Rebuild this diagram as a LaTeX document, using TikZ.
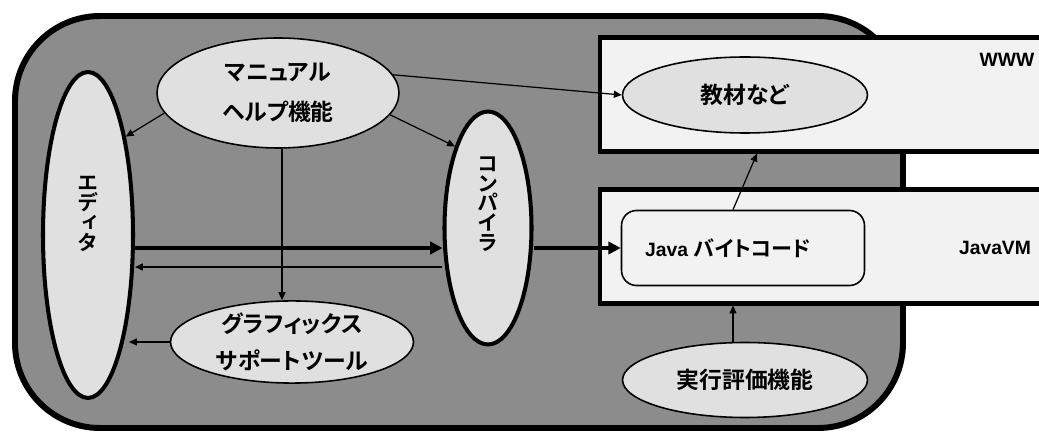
\documentclass[tikz,border=0pt]{standalone}
\usepackage{fontspec}
\usetikzlibrary{shapes.geometric,arrows.meta,calc}
\IfFontExistsTF{Noto Sans CJK JP Bold}
 {\newfontfamily\cjk{Noto Sans CJK JP Bold}[RawFeature=+palt]
  \newfontfamily\cjkv{Noto Sans CJK JP Bold}[RawFeature=+vert]}
 {\newfontfamily\cjk{Noto Sans CJK JP}[RawFeature=+palt,FakeBold=1.2]
  \newfontfamily\cjkv{Noto Sans CJK JP}[RawFeature=+vert,FakeBold=1.2]}
\newfontfamily\lat{Liberation Sans}
\definecolor{outerfill}{gray}{0.55}
\definecolor{elfill}{gray}{0.88}
\definecolor{boxfill}{gray}{0.95}
\setlength{\lineskiplimit}{-20pt}
\begin{document}
\begin{tikzpicture}[x=0.02cm,y=-0.02cm,
  oval/.style={ellipse, draw, fill=elfill, line width=0.9pt, inner sep=0pt},
  bigoval/.style={ellipse, draw, fill=elfill, line width=2.3pt, inner sep=0pt},
  panel/.style={rectangle, draw, fill=boxfill, line width=2.6pt, minimum width=9.6cm, minimum height=2.27cm},
  thinarrow/.style={-{Triangle[length=4.5pt,width=4pt]}, line width=0.7pt},
  bigarrow/.style={-{Triangle[length=7pt,width=7pt]}, line width=2.4pt},
  jtext/.style={font=\cjk\fontsize{13}{22.7}\selectfont, align=center},
  vtext/.style={font=\cjkv\fontsize{12}{11.3}\selectfont, align=center, inner sep=0pt},
  ltext/.style={font=\lat\bfseries\fontsize{11}{13}\selectfont}
]
\useasboundingbox (0,0) rectangle (1039,435);
\clip (0,0) rectangle (1039,435);
% outer rounded frame
\draw[line width=3.4pt, fill=outerfill, rounded corners=1.7cm] (15,16) rectangle (903,428);
% panels
\node[panel] (www) at (840,94.5) {};
\node[panel] (jvm) at (840,246.5) {};
\node[ltext] (wwwlabel) at (1007,60) {WWW};
\node[ltext] (jvmlabel) at (995,248) {JavaVM};
% ellipses
\node[bigoval, minimum width=1.8cm, minimum height=6.52cm] (editor) at (88,235) {};
\node[vtext] (editorlabel) at (88,214) {エ\\デ\\ィ\\タ};
\node[bigoval, minimum width=1.74cm, minimum height=4.66cm] (compiler) at (488,228) {};
\node[vtext] (complabel) at (488,204) {コ\\ン\\パ\\イ\\ラ};
\node[oval, jtext, minimum width=4.84cm, minimum height=2.2cm] (manual) at (278,93) {マニュアル\\ヘルプ機能};
\node[oval, jtext, font=\cjk\fontsize{13}{21}\selectfont, minimum width=4.86cm, minimum height=1.5cm] (gfx) at (292,342) {グラフィックス\\サポートツール};
\node[oval, jtext, minimum width=4.9cm, minimum height=1.52cm] (kyozai) at (745,95) {教材など};
\node[oval, jtext, minimum width=4.9cm, minimum height=1.5cm] (exec) at (745,380) {実行評価機能};
\node[draw, fill=boxfill, line width=0.9pt, rounded corners=0.3cm, minimum width=4.86cm, minimum height=1.5cm, inner sep=0pt] (bc) at (743,248)
  {{\lat\bfseries\fontsize{11}{13}\selectfont Java} {\cjk\fontsize{12}{14}\selectfont バイトコード}\hspace*{0.6cm}};
% connectors
\coordinate (back) at (300,267);
\draw[bigarrow] (editor.east |- bc.west) -- (compiler.west |- bc.west);
\draw[thinarrow] (compiler.west |- back) -- (editor.east |- back);
\draw[bigarrow] (compiler.east |- bc.west) -- (bc.west);
\draw[thinarrow] (gfx.west) -- ($(editor.east |- gfx.west)+(-6,0)$);
\draw[thinarrow] (manual.190) -- (editor.69);
\draw[thinarrow] (manual.-11) -- (compiler.112);
\draw[thinarrow] (manual.9) -- (kyozai.west);
\draw[thinarrow] ($(manual.south)+(4,0)$) -- ($(manual.south |- gfx.north)+(4,0)$);
\draw[thinarrow] ($(bc.north)+(-10,0)$) -- ($(bc.north |- www.south)+(14,0)$);
\draw[thinarrow] ($(exec.north)+(-12,0)$) -- ($(exec.north |- jvm.south)+(-12,0)$);
\end{tikzpicture}
\end{document}
